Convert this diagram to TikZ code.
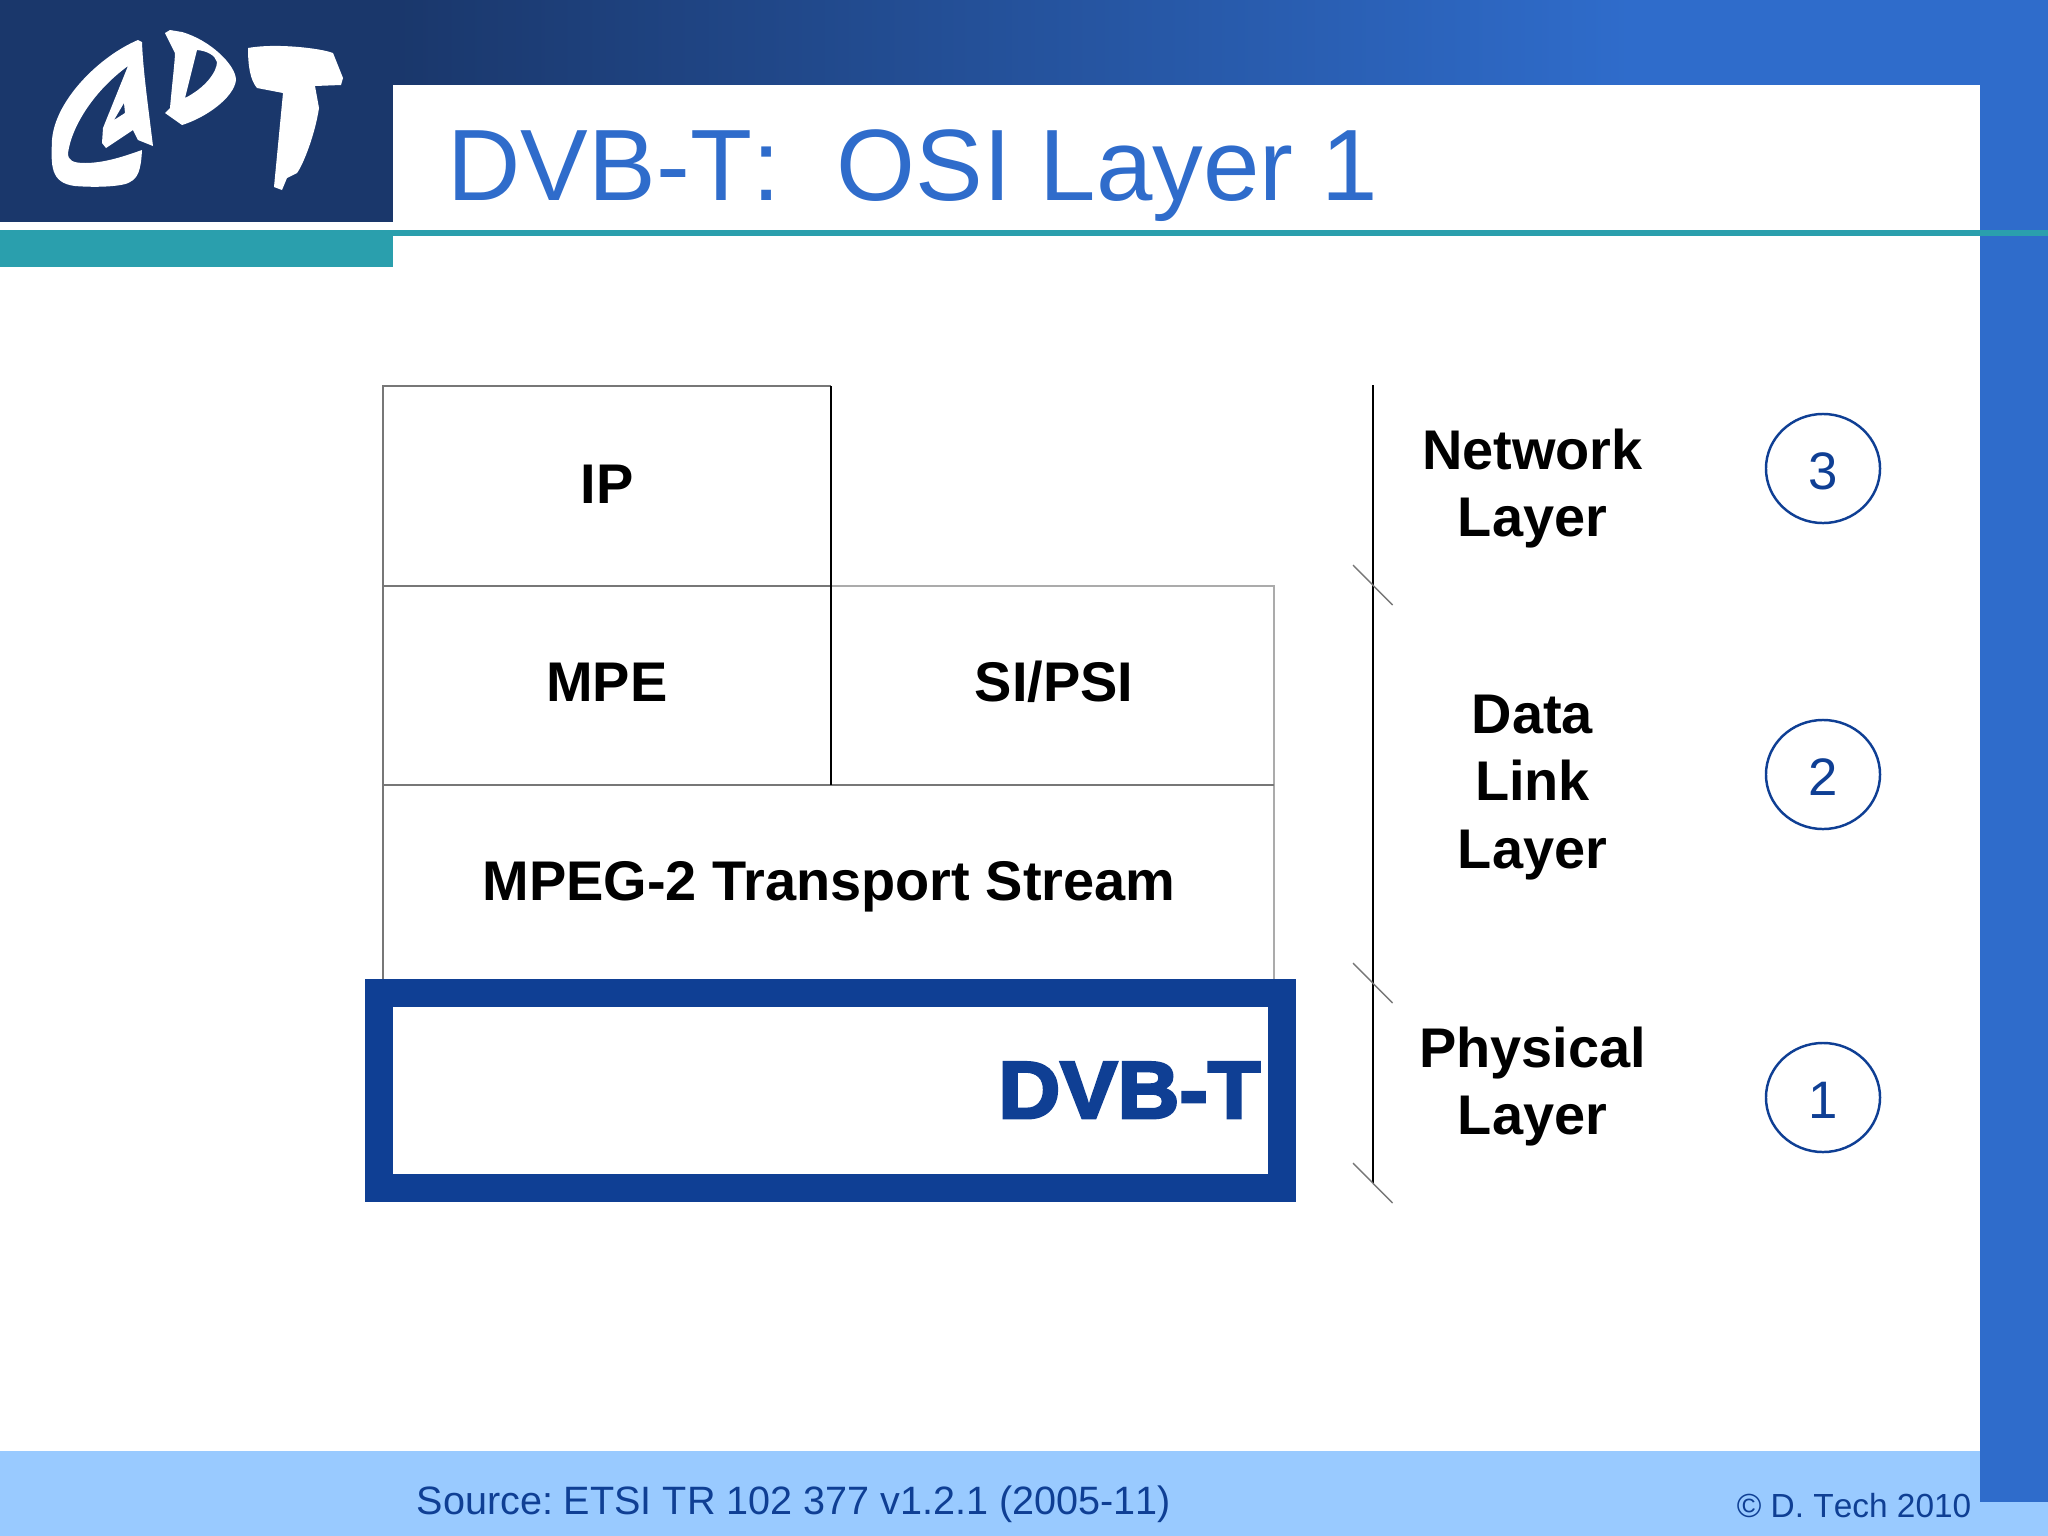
\documentclass[tikz,border=0pt]{standalone}
\usepackage{fontspec}
\setmainfont[Kerning=Off,BoldFeatures={Kerning=On}]{Liberation Sans}
\newfontfamily\heavyfont[FakeBold=3.5,FakeStretch=1.06]{Liberation Sans Bold}
\usetikzlibrary{shapes.geometric}
\definecolor{navy}{HTML}{1A376B}
\definecolor{slideblue}{HTML}{2F6CCB}
\definecolor{footblue}{HTML}{99CAFF}
\definecolor{teal}{HTML}{2A9FAD}
\definecolor{inkblue}{HTML}{0F3F94}
\definecolor{darkline}{HTML}{777777}
\definecolor{lightline}{HTML}{ABABAB}
\frenchspacing
\begin{document}
\begin{tikzpicture}[x=0.01cm,y=-0.01cm,
  boxtext/.style={anchor=base,inner sep=0pt,font=\bfseries\fontsize{15.9}{19}\selectfont},
  layername/.style={boxtext,align=center},
  layernum/.style={ellipse,draw=inkblue,line width=0.7pt,minimum width=1.14cm,minimum height=1.09cm,inner sep=0pt,text height=11.8pt,text depth=0pt,text=inkblue,font=\fontsize{15}{18}\selectfont},
  foottext/.style={inner sep=0pt,text=inkblue}]
\useasboundingbox (0,0) rectangle (2048,1536);
\fill [left color=navy,right color=slideblue,shading angle=90] (393,0) rectangle (1630,90);
\fill [slideblue] (1630,0) rectangle (2048,90);
\fill [white] (393,85) rectangle (1980,1451);
\fill [white] (0,222) rectangle (393,1451);
\fill [navy] (0,0) rectangle (393,222);
\fill [footblue] (0,1451) rectangle (2048,1536);
\fill [slideblue] (1980,85) rectangle (2048,1502);
\fill [teal] (0,230) rectangle (393,267);
\fill [teal] (393,230) rectangle (2048,236);
\fill [white,even odd rule] (138,40) .. controls (100,56) and (55,100) .. (52,140)
  .. controls (51,165) and (50,183) .. (75,186)
  .. controls (100,188) and (125,186) .. (130,182)
  .. controls (138,178) and (141,170) .. (142,150)
  .. controls (125,156) and (105,163) .. (85,163)
  .. controls (72,163) and (68,160) .. (68,153)
  .. controls (72,125) and (95,90) .. (128,66)
  -- (103,128) -- (102,143) -- (106,148) -- (133,130) -- (138,140) -- (153,146)
  .. controls (148,105) and (143,70) .. (142,42) -- cycle
  (124,103) -- (114,120) -- (125,113) -- cycle;
\fill [white,even odd rule] (165,33) -- (170,30) -- (182,32)
  .. controls (210,40) and (236,65) .. (236,80)
  .. controls (234,98) and (205,118) .. (182,125)
  -- (165,113) -- (170,108) .. controls (172,85) and (175,60) .. (175,53) -- cycle
  (197,50) -- (185,98) .. controls (205,88) and (217,72) .. (217,62)
  .. controls (215,55) and (207,51) .. (197,50) -- cycle;
\fill [white] (248,48) .. controls (275,43) and (320,48) .. (333,53)
  -- (343,78) -- (341,85) -- (315,86) -- (319,108)
  .. controls (315,135) and (303,165) .. (297,173)
  -- (287,178) -- (282,190) -- (274,187) -- (283,93) -- (257,88)
  .. controls (250,80) and (248,65) .. (248,48) -- cycle;
\node [anchor=base west,inner sep=0pt,text=slideblue,font=\fontsize{28.85}{34}\selectfont] (title) at (447,200) {DVB-T:\ \ OSI Layer 1};
\draw [lightline,line width=0.7pt] (831,586) -- (1274,586) -- (1274,980);
\draw [darkline,line width=0.7pt] (383,980) -- (383,386) -- (831,386);
\draw [darkline,line width=0.7pt] (383,586) -- (831,586);
\draw [darkline,line width=0.7pt] (383,785) -- (1274,785);
\draw [black,line width=0.4pt] (831,386) -- (831,785);
\draw [inkblue,line width=7.97pt] (379,993) rectangle (1282,1187.5);
\node [boxtext] (ip) at (607,503) {IP};
\node [boxtext] (mpe) at (607,701) {MPE};
\node [boxtext] (sipsi) at (1054,701) {SI/PSI};
\node [boxtext] (ts) at (829,900) {MPEG-2 Transport Stream};
\node [anchor=base east,inner sep=0pt,text=inkblue,font=\heavyfont\fontsize{23}{28}\selectfont] (dvbt) at (1261,1118) {DVB-T};
\draw [black,line width=0.4pt] (1373,385) -- (1373,1183);
\draw [darkline,line width=0.4pt] (1353,565) -- (1392.5,605);
\draw [darkline,line width=0.4pt] (1353,963) -- (1392.5,1003);
\draw [darkline,line width=0.4pt] (1353,1163) -- (1392.5,1203);
\node [layername] (network) at (1532.5,536) {Network\\Layer};
\node [layername] (datalink) at (1532.5,868) {Data\\[0.15pt]Link\\[0.15pt]Layer};
\node [layername] (physical) at (1532.5,1134) {Physical\\Layer};
\node [layernum] (three) at (1823,468.5) {3};
\node [layernum] (two) at (1823,774.5) {2};
\node [layernum] (one) at (1823,1097.5) {1};
\node [foottext,anchor=base west,font=\fontsize{11.25}{13}\selectfont] (source) at (416,1514) {Source: ETSI TR 102 377 v1.2.1 (2005-11)};
\node [foottext,anchor=base east,font=\fontsize{9.5}{11}\selectfont] (copy) at (1972,1517) {© D. Tech 2010};
\end{tikzpicture}
\end{document}
